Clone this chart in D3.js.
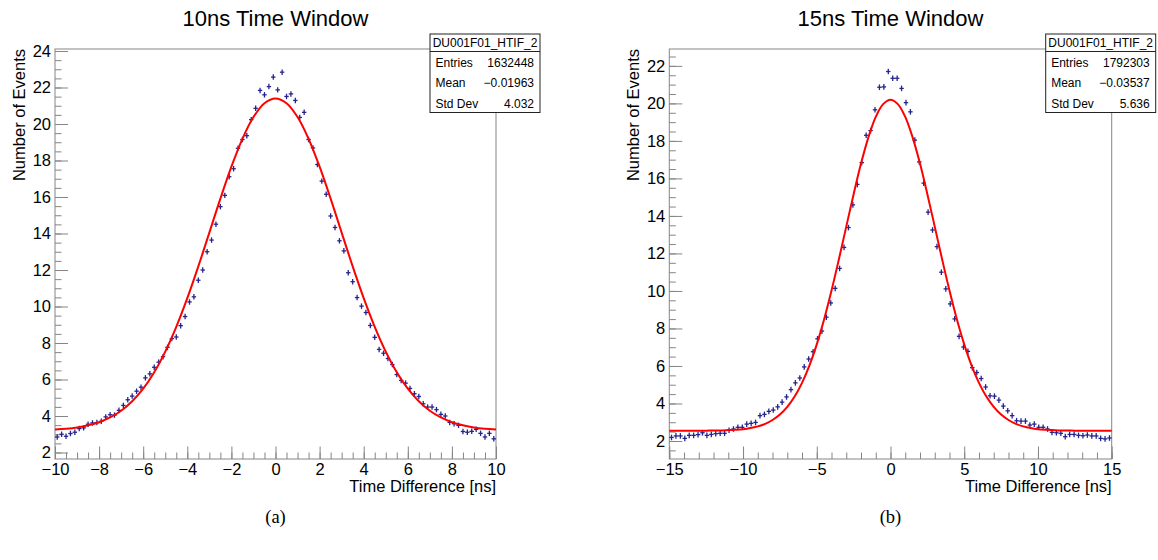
<!DOCTYPE html>
<html>
<head>
<meta charset="utf-8">
<script src="https://cdn.jsdelivr.net/npm/d3@7"></script>
<style>
body { margin: 0; background: #fff; }
svg text { font-family: "Liberation Sans", Arial, Helvetica, sans-serif; fill: #000; }
</style>
</head>
<body>
<script>
// histogram contents (100 bins each)
var leftRange = [-10, 10];
var leftCounts = [
  2.85, 3.00, 2.89, 3.04, 3.11, 3.31, 3.35, 3.55, 3.62, 3.64,
  3.71, 3.95, 4.07, 4.05, 4.31, 4.58, 4.89, 5.09, 5.36, 5.58,
  6.09, 6.31, 6.67, 6.95, 7.25, 7.76, 8.24, 8.33, 8.95, 9.45,
  10.25, 10.53, 11.44, 12.00, 13.00, 13.64, 14.51, 15.47, 16.09, 17.11,
  17.55, 18.67, 19.15, 19.36, 20.24, 20.86, 21.84, 21.60, 22.05, 22.57,
  21.87, 22.84, 21.51, 21.65, 21.29, 20.36, 20.64, 19.15, 18.69, 17.78,
  16.87, 16.15, 14.96, 14.33, 13.60, 13.05, 11.85, 11.36, 10.49, 10.02,
  9.67, 8.96, 8.31, 7.65, 7.44, 7.15, 6.82, 6.27, 5.95, 5.80,
  5.51, 5.22, 5.07, 4.67, 4.49, 4.49, 4.35, 4.09, 4.00, 3.65,
  3.58, 3.49, 3.15, 3.11, 3.16, 3.27, 3.05, 2.85, 3.05, 2.75
];
var rightRange = [-15, 15];
var rightCounts = [
  2.19, 2.27, 2.27, 2.14, 2.30, 2.30, 2.34, 2.44, 2.30, 2.35,
  2.39, 2.41, 2.41, 2.57, 2.64, 2.73, 2.73, 2.90, 2.94, 2.99,
  3.35, 3.42, 3.58, 3.65, 3.82, 4.07, 4.35, 4.74, 5.10, 5.36,
  5.95, 6.37, 6.76, 7.45, 7.86, 8.60, 9.36, 10.14, 11.20, 12.32,
  13.38, 14.59, 15.68, 16.84, 18.30, 18.55, 19.66, 20.86, 20.88, 21.70,
  21.34, 21.34, 20.80, 20.04, 19.55, 18.04, 16.88, 15.75, 14.20, 13.25,
  12.36, 11.00, 10.11, 9.31, 8.51, 7.58, 7.01, 6.78, 5.91, 5.65,
  5.33, 4.88, 4.41, 4.39, 4.18, 3.86, 3.61, 3.35, 3.08, 3.06,
  3.06, 2.85, 2.90, 2.73, 2.73, 2.64, 2.46, 2.44, 2.41, 2.23,
  2.35, 2.35, 2.30, 2.28, 2.32, 2.27, 2.27, 2.14, 2.11, 2.16
];
var errBar = 0.15;

// red fit curves, read every 0.5 ns
var leftFitY = [
  3.26, 3.30, 3.37, 3.49, 3.66, 3.92, 4.29, 4.81, 5.50, 6.40,
  7.53, 8.89, 10.46, 12.20, 14.05, 15.91, 17.66, 19.19, 20.38, 21.14,
  21.40,
  21.14, 20.38, 19.19, 17.66, 15.91, 14.05, 12.20, 10.46, 8.89, 7.53,
  6.40, 5.50, 4.81, 4.29, 3.92, 3.66, 3.49, 3.37, 3.30, 3.26
];
var rightFitY = [
  2.55, 2.55, 2.55, 2.55, 2.55, 2.55, 2.56, 2.56, 2.58, 2.60,
  2.63, 2.69, 2.78, 2.91, 3.12, 3.41, 3.82, 4.37, 5.10, 6.02,
  7.15, 8.49, 10.02, 11.69, 13.43, 15.16, 16.79, 18.19, 19.28, 19.96,
  20.20,
  19.96, 19.28, 18.19, 16.79, 15.16, 13.43, 11.69, 10.02, 8.49, 7.15,
  6.02, 5.10, 4.37, 3.82, 3.41, 3.12, 2.91, 2.78, 2.69, 2.63,
  2.60, 2.58, 2.56, 2.56, 2.55, 2.55, 2.55, 2.55, 2.55, 2.55
];

var titles = ["10ns Time Window", "15ns Time Window"];
var captions = ["(a)", "(b)"];
var histName = "DU001F01_HTIF_2";
var leftStats = [["Entries", "1632448"], ["Mean", "\u22120.01963"], ["Std Dev", "4.032"]];
var rightStats = [["Entries", "1792303"], ["Mean", "\u22120.03537"], ["Std Dev", "5.636"]];

var W = 1158, H = 560;
var top0 = 49, bot0 = 459;
var svg = d3.select("body").append("svg").attr("width", W).attr("height", H);

function drawPanel(p) {
  var x = d3.scaleLinear().domain(p.range).range([p.left, p.right]);
  var y = d3.scaleLinear().domain(p.yDomain).range([bot0, top0]);
  var g = svg.append("g");

  // frame
  g.append("rect")
    .attr("x", p.left).attr("y", top0)
    .attr("width", p.right - p.left).attr("height", bot0 - top0)
    .attr("fill", "none").attr("stroke", "#858585").attr("stroke-width", 1);

  // ticks, pointing into the frame
  var ax = g.append("g").attr("class", "ax");
  ax.append("g").attr("transform", "translate(0," + bot0 + ")")
    .call(d3.axisBottom(x).tickValues(p.xMinor).tickSize(-6.5).tickFormat(""));
  ax.append("g").attr("transform", "translate(0," + bot0 + ")")
    .call(d3.axisBottom(x).tickValues(p.xMajor).tickSize(-12.5).tickPadding(4.5).tickFormat(d3.format("d")));
  ax.append("g").attr("transform", "translate(" + p.left + ",0)")
    .call(d3.axisLeft(y).tickValues(p.yMinor).tickSize(-6.5).tickFormat(""));
  ax.append("g").attr("transform", "translate(" + p.left + ",0)")
    .call(d3.axisLeft(y).tickValues(p.yMajor).tickSize(-13).tickPadding(4).tickFormat(d3.format("d")));
  ax.selectAll(".domain").remove();
  ax.selectAll("g").attr("font-family", null).attr("font-size", null);
  ax.selectAll(".tick line").attr("stroke", "#858585");
  ax.selectAll(".tick text").attr("font-size", "16.5px").attr("fill", "#000");

  // histogram points drawn as "+" (bin width and error)
  var bw = (p.range[1] - p.range[0]) / p.counts.length;
  var pts = p.counts.map(function (v, i) { return { c: p.range[0] + bw * (i + 0.5), v: v }; });
  var mk = g.append("g").attr("stroke", "#24248f").attr("stroke-width", 1.3);
  mk.selectAll("line.h").data(pts).enter().append("line").attr("class", "h")
    .attr("x1", function (d) { return x(d.c - bw * 0.5); })
    .attr("x2", function (d) { return x(d.c + bw * 0.5); })
    .attr("y1", function (d) { return y(d.v); })
    .attr("y2", function (d) { return y(d.v); });
  mk.selectAll("line.v").data(pts).enter().append("line").attr("class", "v")
    .attr("x1", function (d) { return x(d.c); })
    .attr("x2", function (d) { return x(d.c); })
    .attr("y1", function (d) { return y(d.v - errBar); })
    .attr("y2", function (d) { return y(d.v + errBar); });

  // fit
  var fx = d3.range(p.range[0], p.range[1] + 0.001, 0.5);
  var fit = fx.map(function (v, i) { return [v, p.fit[i]]; });
  g.append("path").datum(fit)
    .attr("fill", "none").attr("stroke", "#ff0000").attr("stroke-width", 2)
    .attr("d", d3.line().x(function (d) { return x(d[0]); }).y(function (d) { return y(d[1]); })
      .curve(d3.curveCatmullRom.alpha(0.5)));

  // title and axis titles
  svg.append("text").attr("x", (p.left + p.right) / 2).attr("y", 25.5)
    .attr("text-anchor", "middle").attr("font-size", "22px").text(p.title);
  svg.append("text").attr("x", p.right).attr("y", 491.5)
    .attr("text-anchor", "end").attr("font-size", "16.5px").text("Time Difference [ns]");
  svg.append("text").attr("transform", "translate(" + (p.left - 30.5) + "," + top0 + ") rotate(-90)")
    .attr("text-anchor", "end").attr("font-size", "16.5px").text("Number of Events");

  // stats box
  var bx = p.right + 44 - 110, bwid = 110;
  var sb = svg.append("g");
  sb.append("rect").attr("x", bx).attr("y", 34).attr("width", bwid).attr("height", 78.5)
    .attr("fill", "#fff").attr("stroke", "#222").attr("stroke-width", 1);
  sb.append("line").attr("x1", bx).attr("x2", bx + bwid).attr("y1", 51.5).attr("y2", 51.5)
    .attr("stroke", "#222");
  sb.append("text").attr("x", bx + bwid / 2).attr("y", 46.5).attr("text-anchor", "middle")
    .attr("font-size", "12px").text(histName);
  p.stats.forEach(function (s, i) {
    sb.append("text").attr("x", bx + 5.5).attr("y", 67 + i * 20.3).attr("font-size", "12px").text(s[0]);
    sb.append("text").attr("x", bx + bwid - 6).attr("y", 67 + i * 20.3).attr("text-anchor", "end")
      .attr("font-size", "12px").text(s[1]);
  });

  // sub-caption
  svg.append("text").attr("x", (p.left + p.right) / 2).attr("y", 523)
    .attr("text-anchor", "middle").attr("font-size", "18.5px")
    .style("font-family", "'Liberation Serif', 'Times New Roman', serif").text(p.caption);
}

drawPanel({
  left: 55, right: 496, range: leftRange, yDomain: [1.644, 24.11],
  xMajor: d3.range(-10, 10.001, 2), xMinor: d3.range(-10, 10.001, 0.5),
  yMajor: d3.range(2, 24.001, 2), yMinor: d3.range(2, 24.001, 0.5),
  counts: leftCounts, fit: leftFitY, title: titles[0], stats: leftStats, caption: captions[0]
});
drawPanel({
  left: 669.3, right: 1111.7, range: rightRange, yDomain: [1.04, 22.9],
  xMajor: d3.range(-15, 15.001, 5), xMinor: d3.range(-15, 15.001, 1),
  yMajor: d3.range(2, 22.001, 2), yMinor: d3.range(1.5, 22.501, 0.5),
  counts: rightCounts, fit: rightFitY, title: titles[1], stats: rightStats, caption: captions[1]
});
</script>
</body>
</html>
